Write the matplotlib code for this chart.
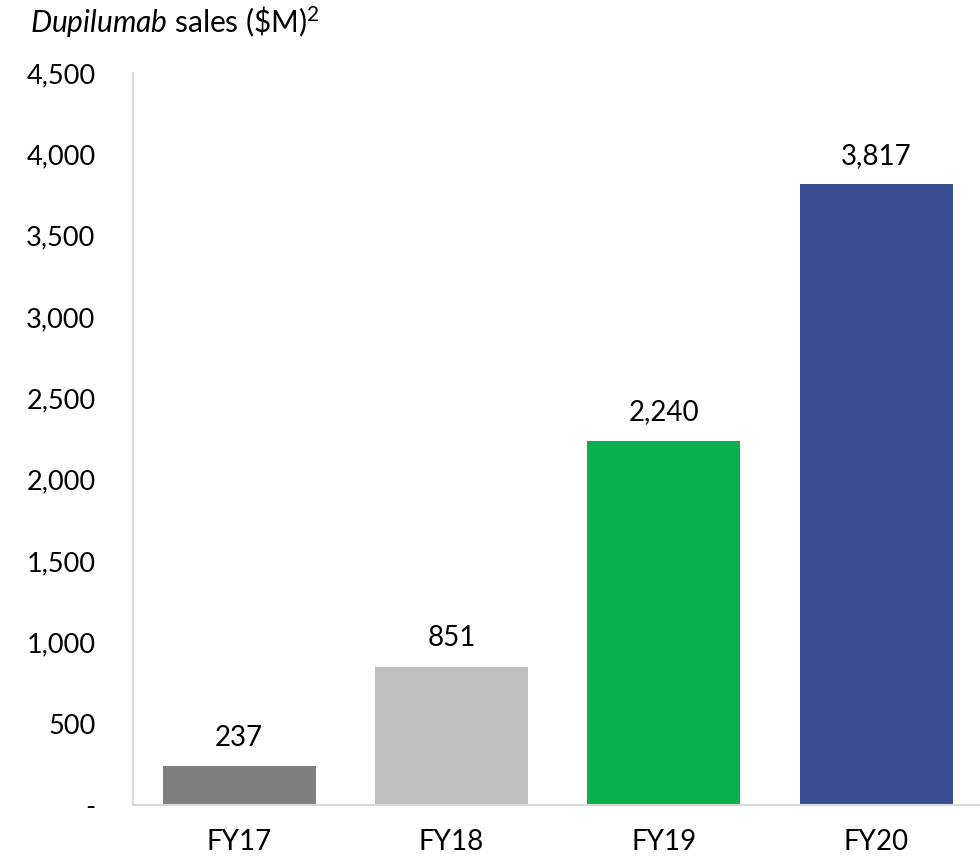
import matplotlib
matplotlib.use("Agg")
import matplotlib.pyplot as plt
from matplotlib.ticker import FuncFormatter

# data
years = ["FY17", "FY18", "FY19", "FY20"]
sales = [237, 851, 2240, 3817]
colors = ["#7F7F7F", "#BFBFBF", "#06B04F", "#3A4D93"]
yticks = [0, 500, 1000, 1500, 2000, 2500, 3000, 3500, 4000, 4500]

plt.rcParams['font.family'] = ['Lato', 'DejaVu Sans']
plt.rcParams['mathtext.fontset'] = 'custom'
plt.rcParams['mathtext.rm'] = 'Lato'
plt.rcParams['mathtext.it'] = 'Lato:italic'

fig = plt.figure(figsize=(9.8, 8.59), dpi=100)
ax = fig.add_axes([133 / 980, 54 / 859, 849.5 / 980, 732 / 859])

x = range(len(years))
ax.bar(x, sales, width=0.72, color=colors)
for i, v in enumerate(sales):
    ax.annotate(f"{v:,}", (i, v), xytext=(0, 11), textcoords="offset points",
                ha="center", va="bottom", fontsize=20, color="black")

ax.set_xlim(-0.5, 3.5)
ax.set_ylim(0, 4500)
ax.set_yticks(yticks)
ax.yaxis.set_major_formatter(FuncFormatter(lambda v, p: "-" if v == 0 else f"{v:,.0f}"))
ax.set_xticks(list(x))
ax.set_xticklabels(years)
ax.tick_params(axis="y", length=0, pad=27, labelsize=19.5)
ax.tick_params(axis="x", length=0, pad=17, labelsize=20)

for s in ["top", "right"]:
    ax.spines[s].set_visible(False)
for s in ["left", "bottom"]:
    ax.spines[s].set_color("#D9D9D9")
    ax.spines[s].set_linewidth(1.5)

fig.text(30 / 980, 1 - 22 / 859, r"$\it{Dupilumab}$ sales ($\$$M)$^2$",
         ha="left", va="center", fontsize=21.5)

fig.savefig("out.png", dpi=100)
